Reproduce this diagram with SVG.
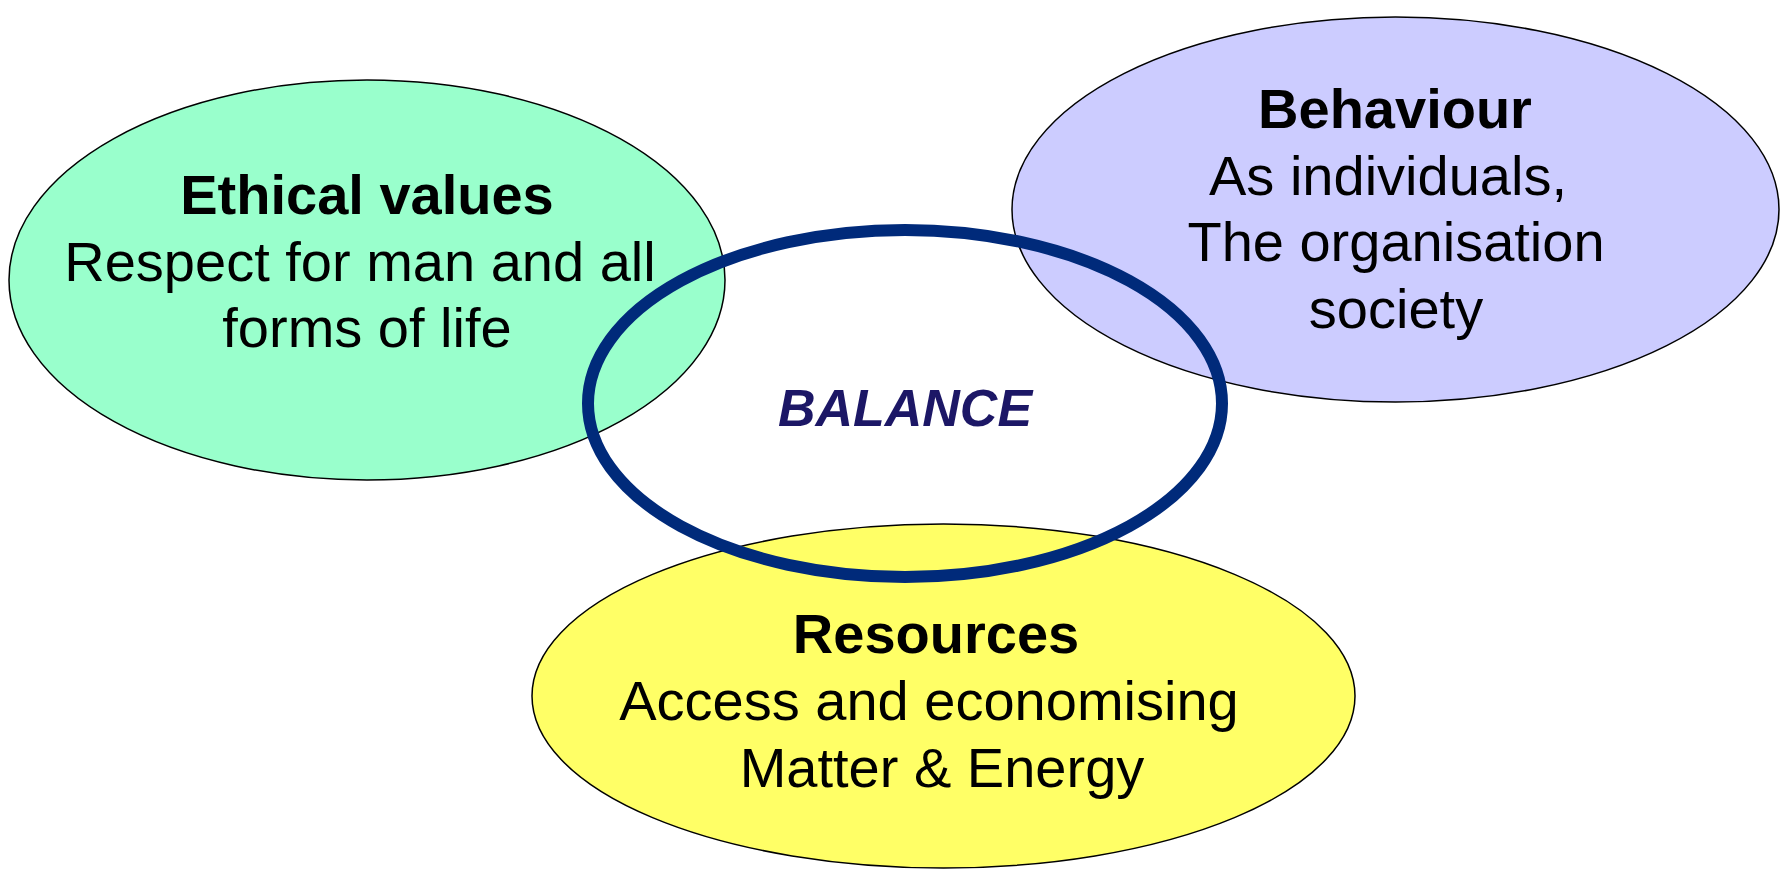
<svg xmlns="http://www.w3.org/2000/svg" width="1787" height="869" viewBox="0 0 1787 869">
<style>
.node{stroke:#000;stroke-width:1.5}
.t{font-family:"Liberation Sans",Arial,sans-serif;font-size:56px;fill:#000;text-anchor:middle}
.b{font-weight:bold}
.bal{font-family:"Liberation Sans",Arial,sans-serif;font-size:52px;font-weight:bold;font-style:italic;fill:#1C1766;text-anchor:middle}
</style>
<rect width="1787" height="869" fill="#fff"/>
<g id="ethical">
<ellipse class="node" cx="367" cy="280" rx="358" ry="200" fill="#99FFCC"/>
<text class="t b" x="367" y="214">Ethical values</text>
<text class="t" x="360" y="281">Respect for man and all</text>
<text class="t" x="367" y="347">forms of life</text>
</g>
<g id="behaviour">
<ellipse class="node" cx="1395.5" cy="209.5" rx="383.5" ry="192.5" fill="#CCCCFF"/>
<text class="t b" x="1395" y="128">Behaviour</text>
<text class="t" x="1388" y="195">As individuals,</text>
<text class="t" x="1396" y="261">The organisation</text>
<text class="t" x="1396" y="328">society</text>
</g>
<g id="resources">
<ellipse class="node" cx="943.5" cy="696" rx="411.5" ry="172" fill="#FFFF66"/>
<text class="t b" x="936" y="653">Resources</text>
<text class="t" x="929" y="720">Access and economising</text>
<text class="t" x="942" y="787">Matter &amp; Energy</text>
</g>
<g id="balance">
<ellipse cx="905" cy="403.5" rx="317" ry="173.5" fill="none" stroke="#002A7A" stroke-width="12"/>
<text class="bal" x="905" y="426">BALANCE</text>
</g>
<g id="connectors"></g>
</svg>
